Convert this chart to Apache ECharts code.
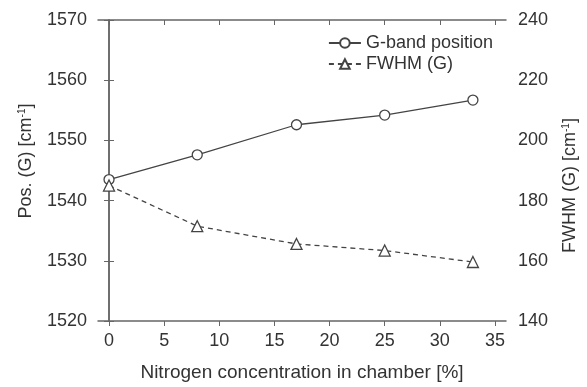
<!DOCTYPE html>
<html><head><meta charset="utf-8">
<script src="https://cdn.jsdelivr.net/npm/echarts@6/dist/echarts.min.js"></script>
<style>html,body{margin:0;padding:0;background:#fff}#c{width:587px;height:387px}</style>
</head><body><div id="c"></div>
<script>
var xValues = [0, 8, 17, 25, 33];
var gBand = [1543.5, 1547.6, 1552.6, 1554.2, 1556.7];
var fwhm = [185.0, 171.5, 165.6, 163.4, 159.6];
var xTicks = [0, 5, 10, 15, 20, 25, 30, 35];
var seriesNames = ['G-band position', 'FWHM (G)'];

var chart = echarts.init(document.getElementById('c'));
var font = 'Liberation Sans, Arial, sans-serif';
var txt = '#333';
var axCol = '#666';
function pairs(xs, ys){ return xs.map(function(x,i){return [x, ys[i]];}); }
function plain(v){ return String(v); }
var richSup = { sup: { fontSize: 10, verticalAlign: 'top', color: txt, fontFamily: font, padding:[0,0,8,0] }, n: { fontSize: 18, color: txt, fontFamily: font } };
chart.setOption({
  animation: false,
  textStyle: { fontFamily: font },
  grid: { left: 98, right: 80, top: 20, bottom: 64 },
  legend: {
    data: seriesNames, right: 89, top: 29, orient: 'vertical', itemGap: 3,
    itemWidth: 32, itemHeight: 12,
    textStyle: { fontSize: 18, color: txt, fontFamily: font }
  },
  xAxis: [{
    type: 'value', min: -1, max: 36, position: 'bottom',
    name: 'Nitrogen concentration in chamber [%]', nameLocation: 'middle', nameGap: 42,
    nameTextStyle: { fontSize: 19, color: txt, fontFamily: font },
    axisLine: { lineStyle: { color: axCol, width: 1.5 } },
    axisTick: { show: true, length: 5, customValues: xTicks, lineStyle: { color: axCol } },
    axisLabel: { customValues: xTicks, fontSize: 18, color: txt, fontFamily: font, margin: 11, formatter: plain },
    splitLine: { show: false }
  }, {
    type: 'value', min: -1, max: 36, position: 'top',
    axisLine: { lineStyle: { color: axCol, width: 1.5 } },
    axisTick: { show: true, inside: true, length: 5, customValues: xTicks, lineStyle: { color: axCol } },
    axisLabel: { show: false },
    splitLine: { show: false }
  }],
  yAxis: [{
    type: 'value', min: 1520, max: 1570, interval: 10, position: 'left',
    name: '{n|Pos. (G) [cm}{sup|-1}{n|]}', nameLocation: 'middle', nameGap: 63, nameRotate: 90,
    nameTextStyle: { rich: richSup, fontSize: 18, color: txt, padding: [0, 0, 0, 19] },
    axisLine: { show: true, lineStyle: { color: axCol, width: 1.5 } },
    axisTick: { show: true, length: 5, lineStyle: { color: axCol } },
    axisLabel: { fontSize: 18, color: txt, fontFamily: font, margin: 11, formatter: plain },
    splitLine: { show: false }
  }, {
    type: 'value', min: 140, max: 240, interval: 20, position: 'right',
    name: '{n|FWHM (G) [cm}{sup|-1}{n|]}', nameLocation: 'middle', nameGap: 55, nameRotate: 90,
    nameTextStyle: { rich: richSup, fontSize: 18, color: txt, padding: [0, 30, 0, 0] },
    axisLine: { show: true, lineStyle: { color: axCol, width: 1.5 } },
    axisTick: { show: true, length: 5, lineStyle: { color: axCol } },
    axisLabel: { fontSize: 18, color: txt, fontFamily: font, margin: 12, formatter: plain },
    splitLine: { show: false }
  }],
  series: [{
    name: seriesNames[0], type: 'line', xAxisIndex: 0, yAxisIndex: 0,
    data: pairs(xValues, gBand), symbol: 'circle', symbolSize: 10,
    itemStyle: { color: '#fff', borderColor: '#444', borderWidth: 1.3 },
    lineStyle: { color: '#444', width: 1.3 }
  }, {
    name: seriesNames[1], type: 'line', xAxisIndex: 0, yAxisIndex: 1,
    data: pairs(xValues, fwhm), symbol: 'triangle', symbolSize: 11,
    itemStyle: { color: '#fff', borderColor: '#444', borderWidth: 1.3 },
    lineStyle: { color: '#444', width: 1.3, type: [5, 4] }
  }]
});
</script></body></html>
